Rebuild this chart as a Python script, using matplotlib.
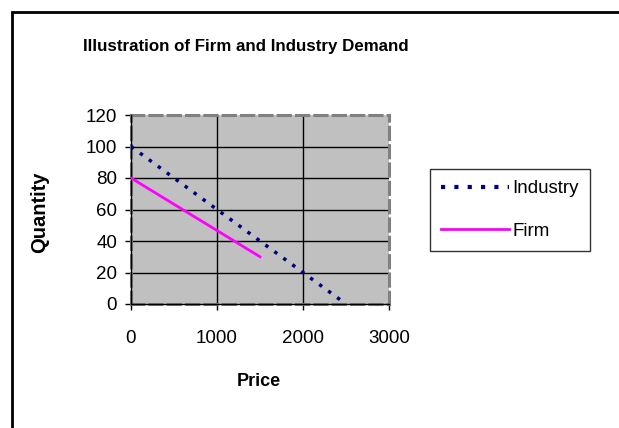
import matplotlib
matplotlib.use("Agg")
import matplotlib.pyplot as plt
from matplotlib.patches import Rectangle
from matplotlib.lines import Line2D

plt.rcParams['font.family'] = ['Liberation Sans', 'DejaVu Sans']

# Demand schedules
price_industry = [0, 500, 1000, 1500, 2000, 2500]
qty_industry = [100, 80, 60, 40, 20, 0]
price_firm = [0, 300, 600, 900, 1200, 1500]
qty_firm = [80, 70, 60, 50, 40, 30]

x_ticks = [0, 1000, 2000, 3000]
y_ticks = [0, 20, 40, 60, 80, 100, 120]

title = "Illustration of Firm and Industry Demand"
x_label = "Price"
y_label = "Quantity"

W, H = 619, 428
fig = plt.figure(figsize=(W / 100, H / 100), dpi=100)
fig.patch.set_facecolor('white')

# outer chart-area frame (runs past the right and bottom edges)
fig.patches.append(Rectangle((12 / W, -0.2), 1.2, 1.2 - 12 / H,
                             transform=fig.transFigure, fill=False,
                             edgecolor='black', linewidth=2, zorder=0))

left, right, top, bottom = 131, 389, 115, 304
ax = fig.add_axes([left / W, 1 - bottom / H, (right - left) / W, (bottom - top) / H])
ax.set_facecolor('#C0C0C0')

ax.set_xlim(0, 3000)
ax.set_ylim(0, 120)
ax.set_xticks(x_ticks)
ax.set_yticks(y_ticks)
ax.tick_params(axis='both', direction='out', length=4, width=1, color='black',
               labelsize=13.5)
ax.tick_params(axis='x', pad=15)
ax.tick_params(axis='y', pad=6)

for y in y_ticks[1:-1]:
    ax.axhline(y, color='black', linewidth=1, zorder=1)
for x in x_ticks[1:-1]:
    ax.axvline(x, color='black', linewidth=1, zorder=1)

for side in ['top', 'right', 'left', 'bottom']:
    ax.spines[side].set_color('#808080')
    ax.spines[side].set_linewidth(2.2)
    ax.spines[side].set_linestyle((0, (4, 2)))
# black axis lines on top of the dashed border
ax.axhline(0, color='black', linewidth=1, zorder=3, clip_on=False)
ax.axvline(0, color='black', linewidth=1, zorder=3, clip_on=False)

ax.plot(price_industry, qty_industry, color='#000080', linewidth=2.5,
        linestyle=(0, (1, 2.2)), zorder=4, label='Industry')
ax.plot(price_firm, qty_firm, color='#FF00FF', linewidth=2, zorder=4,
        label='Firm')

fig.text(83 / W, 1 - 47 / H, title, ha='left', va='center',
         fontsize=12.2, fontweight='bold')
fig.text(259 / W, 1 - 382 / H, x_label, ha='center', va='center',
         fontsize=13, fontweight='bold')
fig.text(40 / W, 1 - 212 / H, y_label, ha='center', va='center',
         rotation=90, fontsize=14.5, fontweight='bold')

handles = [Line2D([], [], color='#000080', linewidth=3, linestyle=(0, (1, 2.2))),
           Line2D([], [], color='#FF00FF', linewidth=2)]
leg = fig.legend(handles, ['Industry', 'Firm'], loc='upper left',
                 bbox_to_anchor=(430 / W, 1 - 169 / H),
                 frameon=True, fancybox=False, shadow=False,
                 fontsize=13.5, handlelength=3.6, handletextpad=0.2,
                 borderpad=0.6, labelspacing=1.35, borderaxespad=0)
leg.get_frame().set_edgecolor('black')
leg.get_frame().set_linewidth(1)

fig.savefig('out.png', dpi=100)
